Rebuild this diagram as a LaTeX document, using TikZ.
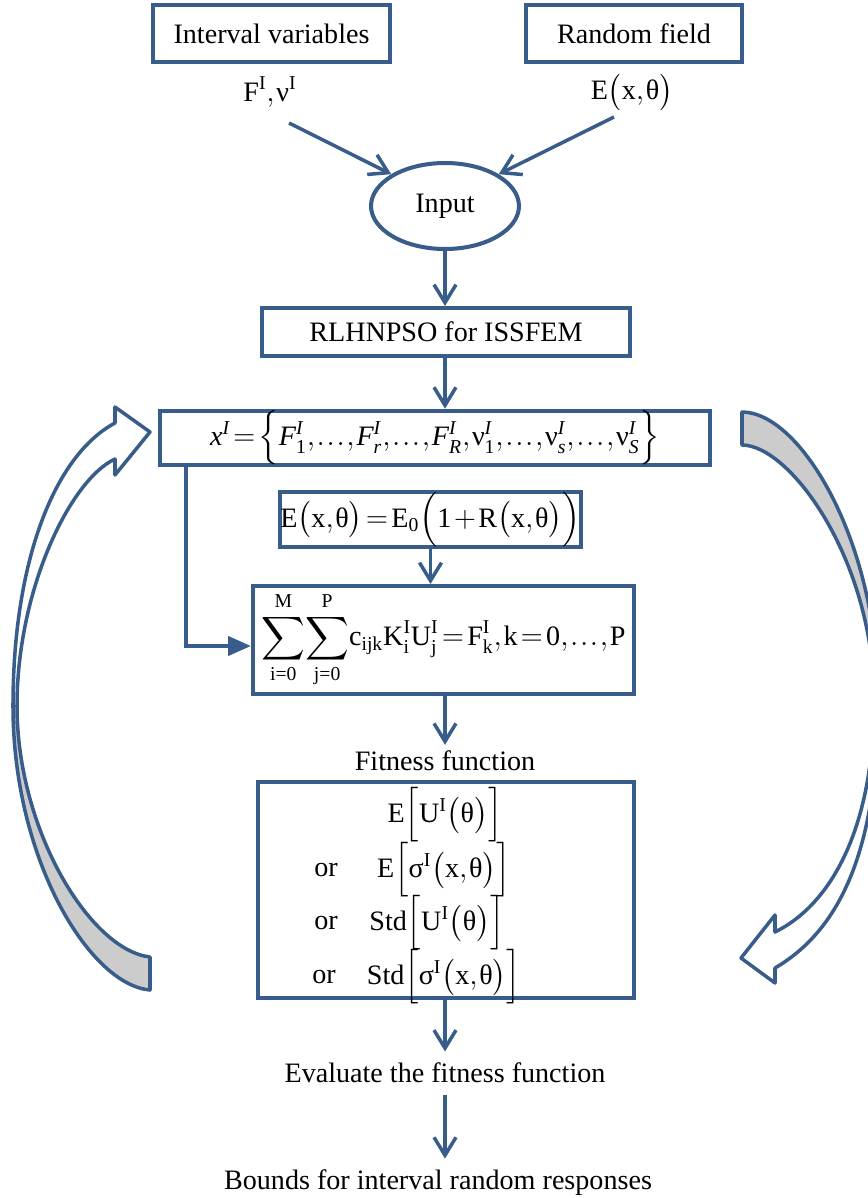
\documentclass[tikz,border=0pt]{standalone}
\usepackage{amsmath}
\usepackage{fontspec}
\setmainfont{Liberation Serif}
\usetikzlibrary{arrows.meta,shapes.geometric,calc}
\definecolor{fcblue}{HTML}{385D8A}
\definecolor{fcgrey}{HTML}{CCCCCC}
\newcommand{\uptxt}[1]{\text{#1}}
\newcommand{\ittxt}[1]{\text{\itshape #1}}
\thickmuskip=2mu plus 1mu
\medmuskip=1.5mu plus 1mu
\thinmuskip=1mu

\begin{document}
\begin{tikzpicture}[x=0.02cm, y=-0.02cm,
    every node/.style={font=\fontsize{16}{19}\selectfont},
    box/.style={draw=fcblue, line width=2.3pt, inner sep=0pt, align=center},
    arrow/.style={-{Straight Barb[length=3.6mm,width=4.4mm]}, line width=2pt, draw=fcblue},
    feed/.style={-{Triangle[length=4.6mm,width=3.8mm]}, line width=2.3pt, draw=fcblue},
    blk/.style={draw=fcblue, line width=2pt, line join=round}
  ]
    \useasboundingbox (0,0) rectangle (868,1198);
    \clip (0,0) rectangle (868,1198);

    % inputs
    \node[box, minimum width=4.74cm, minimum height=1.14cm] (iv) at (271.5,33.5) {Interval variables};
    \node[box, minimum width=4.32cm, minimum height=1.14cm] (rf) at (634,33.5) {Random field};
    \node (fnu) at (270,92) {$\uptxt{F}^{\uptxt{I}},\uptxt{ν}^{\uptxt{I}}$};
    \node (exy) at (632,92) {$\uptxt{E}\bigl(\uptxt{x},\uptxt{θ}\bigr)$};
    \node[ellipse, draw=fcblue, line width=2.3pt, minimum width=2.96cm, minimum height=1.72cm, inner sep=0pt] (input) at (445,206) {Input};

    % main chain
    \node[box, minimum width=7.36cm, minimum height=0.96cm] (rlh) at (446,332) {RLHNPSO for ISSFEM};
    \node[box, minimum width=11cm, minimum height=1.08cm] (xI) at (435,438)
      {$\ittxt{x}^{\ittxt{I}}=\Bigl\{\ittxt{F}_{\uptxt{1}}^{\ittxt{I}},\ldots,\ittxt{F}_{\ittxt{r}}^{\ittxt{I}},\ldots,\ittxt{F}_{\ittxt{R}}^{\ittxt{I}},\uptxt{ν}_{\uptxt{1}}^{\ittxt{I}},\ldots,\uptxt{ν}_{\ittxt{s}}^{\ittxt{I}},\ldots,\uptxt{ν}_{\ittxt{S}}^{\ittxt{I}}\Bigr\}$};
    \node[box, minimum width=5.9cm, minimum height=1.1cm] (eq) at (430.5,519.5)
      {$\uptxt{E}\bigl(\uptxt{x},\uptxt{θ}\bigr)=\uptxt{E}_{\uptxt{0}}\Bigl(\uptxt{1}+\uptxt{R}\bigl(\uptxt{x},\uptxt{θ}\bigr)\Bigr)$};
    \node[box, minimum width=7.62cm, minimum height=2.16cm] (sum) at (443.5,640)
      {$\displaystyle\sum_{\uptxt{i=0}}^{\uptxt{M}}\!\sum_{\uptxt{j=0}}^{\uptxt{P}}\!\uptxt{c}_{\uptxt{ijk}}\uptxt{K}_{\uptxt{i}}^{\uptxt{I}}\uptxt{U}_{\uptxt{j}}^{\uptxt{I}}=\uptxt{F}_{\uptxt{k}}^{\uptxt{I}},\uptxt{k}=\uptxt{0},\ldots,\uptxt{P}$};
    \node (fitlab) at (445,761) {Fitness function};
    \node[box, minimum width=7.52cm, minimum height=4.32cm] (fit) at (446,890) {};
    \node (f1) at (445,815) {$\uptxt{E}\Bigl[\uptxt{U}^{\uptxt{I}}\bigl(\uptxt{θ}\bigr)\Bigr]$};
    \node (or2) at (326,870) {or};
    \node (f2) at (444,870) {$\uptxt{E}\Bigl[\uptxt{σ}^{\uptxt{I}}\bigl(\uptxt{x},\uptxt{θ}\bigr)\Bigr]$};
    \node (or3) at (326,923) {or};
    \node (f3) at (437,923) {$\uptxt{Std}\Bigl[\uptxt{U}^{\uptxt{I}}\bigl(\uptxt{θ}\bigr)\Bigr]$};
    \node (or4) at (324,977) {or};
    \node (f4) at (444,977) {$\uptxt{Std}\Bigl[\uptxt{σ}^{\uptxt{I}}\bigl(\uptxt{x},\uptxt{θ}\bigr)\Bigr]$};
    \node (eval) at (445,1073) {Evaluate the fitness function};
    \node (bounds) at (438,1183) {Bounds for interval random responses};

    \draw[arrow] ([shift={(19,31)}]fnu.center) -- (input.north west);
    \draw[arrow] ([shift={(-18,25)}]exy.center) -- (input.north east);
    \draw[arrow] (input.south) -- (input.south |- rlh.north);
    \draw[arrow] (input.south |- rlh.south) -- (input.south |- xI.north);
    \draw[feed] ([xshift=0.56cm]xI.south west) |- ([yshift=-0.12cm]sum.west);
    \draw[arrow] (eq.south) -- (eq.south |- sum.north);
    \draw[arrow] (input.south |- sum.south) -- (input.south |- fitlab.north);
    \draw[arrow, shorten >=3pt] (input.south |- fit.south) -- (input.south |- eval.north);
    \draw[arrow, shorten <=3pt, shorten >=3pt] (eval.south) -- (eval.south |- bounds.north);

    % loop arrows
    \fill[fcgrey] (13,706) .. controls (13,860) and (90,985) .. (150,990) -- (150,957)
      .. controls (90,950) and (17,830) .. (17,706) -- cycle;
    \draw[blk] (150,990) .. controls (90,985) and (13,860) .. (13,706)
      .. controls (13,560) and (55,455) .. (115,423) -- (115,407) -- (150,432) -- (115,475) -- (115,459)
      .. controls (70,480) and (17,590) .. (17,706) .. controls (17,830) and (90,950) .. (150,957) -- cycle;
    \fill[fcgrey] (742,412) .. controls (800,412) and (878,540) .. (878,700) -- (874,700)
      .. controls (874,560) and (790,445) .. (742,445) -- cycle;
    \draw[blk] (742,412) .. controls (800,412) and (878,540) .. (878,700)
      .. controls (878,850) and (840,930) .. (775,968) -- (775,983) -- (741,958) -- (775,915) -- (775,932)
      .. controls (830,905) and (874,830) .. (874,700) .. controls (874,560) and (790,445) .. (742,445) -- cycle;
  \end{tikzpicture}
\end{document}
